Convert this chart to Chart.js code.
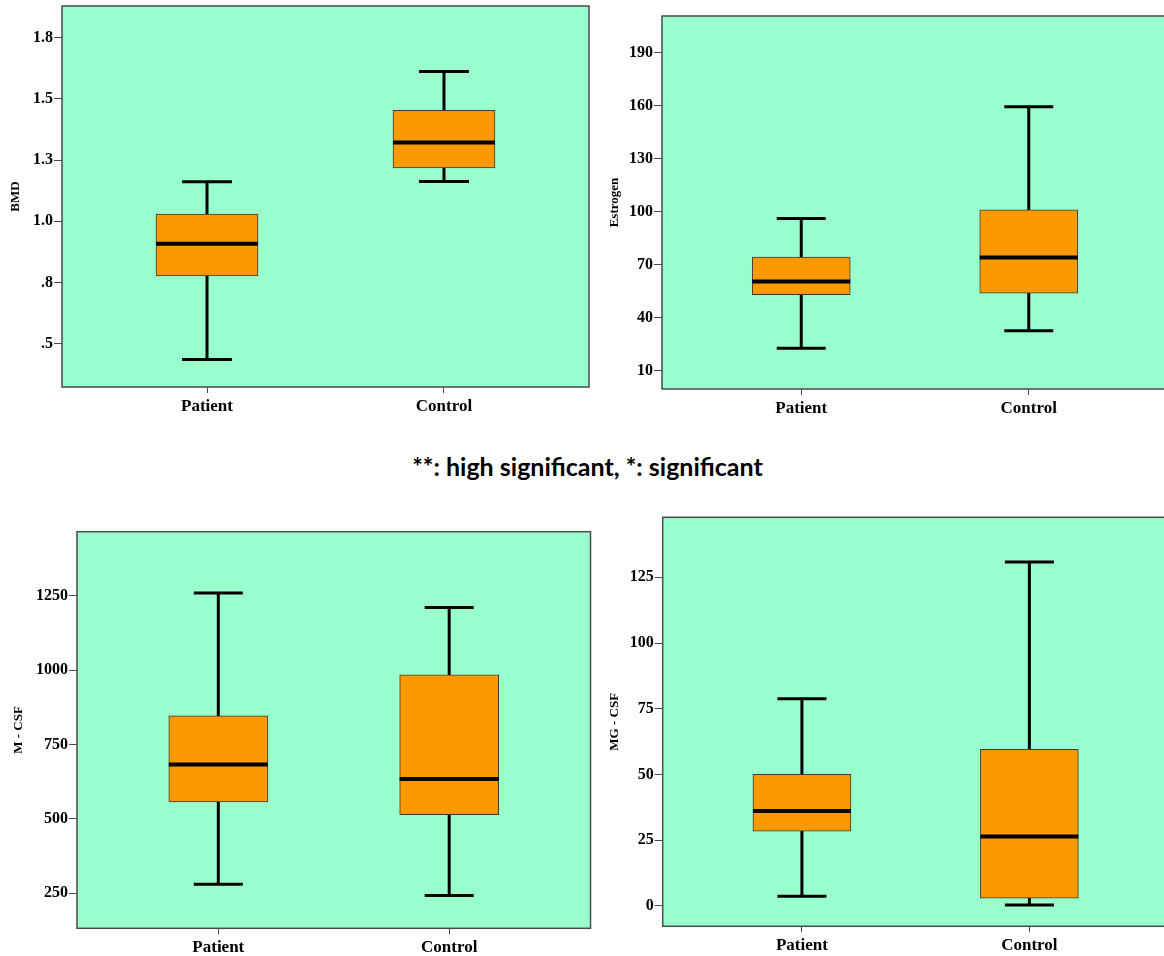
<!DOCTYPE html>
<html><head><meta charset="utf-8">
<script src="https://cdn.jsdelivr.net/npm/chart.js@4.4.1/dist/chart.umd.min.js"></script>
<style>
html,body{margin:0;padding:0;background:#fff;overflow:hidden;width:1164px;height:956px;position:relative;}
canvas{position:absolute;}
#note{position:absolute;left:0;width:1175px;top:453px;text-align:center;font-weight:bold;font-size:25px;line-height:26px;font-family:Lato,'Open Sans',sans-serif;color:#000;white-space:nowrap;}
</style></head><body>
<canvas id="c1" width="590" height="420" style="left:0px;top:0px"></canvas>
<canvas id="c2" width="590" height="420" style="left:590px;top:0px"></canvas>
<canvas id="c3" width="595" height="456" style="left:0px;top:500px"></canvas>
<canvas id="c4" width="590" height="456" style="left:590px;top:500px"></canvas>
<div id="note">**: high significant, *: significant</div>
<script>
// ---------- data ----------
const categories = ['Patient', 'Control'];

const bmdMin    = [0.436, 1.163];
const bmdQ1     = [0.777, 1.218];
const bmdMedian = [0.908, 1.322];
const bmdQ3     = [1.029, 1.453];
const bmdMax    = [1.161, 1.612];
const bmdTicks      = [0.5, 0.75, 1.0, 1.25, 1.5, 1.75];
const bmdTickLabels = ['.5', '.8', '1.0', '1.3', '1.5', '1.8'];

const estMin    = [22.7, 32.6];
const estQ1     = [53.0, 53.8];
const estMedian = [60.4, 74.0];
const estQ3     = [74.3, 101.1];
const estMax    = [96.2, 159.4];
const estTicks      = [10, 40, 70, 100, 130, 160, 190];
const estTickLabels = ['10', '40', '70', '100', '130', '160', '190'];

const mcsfMin    = [280, 243];
const mcsfQ1     = [557, 514];
const mcsfMedian = [683, 634];
const mcsfQ3     = [846, 984];
const mcsfMax    = [1259, 1210];
const mcsfTicks      = [250, 500, 750, 1000, 1250];
const mcsfTickLabels = ['250', '500', '750', '1000', '1250'];

const mgMin    = [3.7, 0.4];
const mgQ1     = [28.5, 3.0];
const mgMedian = [36.1, 26.4];
const mgQ3     = [50.1, 59.6];
const mgMax    = [78.8, 130.8];
const mgTicks      = [0, 25, 50, 75, 100, 125];
const mgTickLabels = ['0', '25', '50', '75', '100', '125'];

// ---------- style ----------
const FONT = "'Liberation Serif','Times New Roman',serif";
const PLOT_BG = 'rgb(153,255,204)';
const BOX_FILL = 'rgb(251,153,0)';
const FRAME = '#4a4a4a';

const framePlugin = {
  id: 'frame',
  beforeDraw(chart) {
    const a = chart.chartArea, ctx = chart.ctx;
    ctx.save();
    ctx.fillStyle = PLOT_BG;
    ctx.fillRect(a.left, a.top, a.right - a.left, a.bottom - a.top);
    ctx.restore();
  },
  afterDatasetsDraw(chart) {
    const a = chart.chartArea, ctx = chart.ctx;
    ctx.save();
    ctx.strokeStyle = FRAME;
    ctx.lineWidth = 1.5;
    ctx.strokeRect(a.left, a.top, a.right - a.left, a.bottom - a.top);
    ctx.restore();
  }
};

function boxChart(id, d, L) {
  const datasets = [];
  categories.forEach((c, i) => {
    datasets.push({
      type: 'line',
      data: [{x: i + 1, y: d.min[i]}, {x: i + 1, y: d.max[i]}],
      borderColor: '#000', borderWidth: 3,
      pointStyle: 'line', pointRadius: L.capR, pointHoverRadius: L.capR,
      pointBorderColor: '#000', pointBorderWidth: 3, pointHoverBorderWidth: 3,
      order: 3
    });
  });
  datasets.push({
    type: 'bar',
    data: categories.map((c, i) => ({x: i + 1, y: [d.q1[i], d.q3[i]]})),
    backgroundColor: BOX_FILL, borderColor: '#3a3a3a', borderWidth: 1,
    borderSkipped: false, barThickness: L.boxW, order: 2
  });
  datasets.push({
    type: 'line', showLine: false,
    data: categories.map((c, i) => ({x: i + 1, y: d.med[i]})),
    pointStyle: 'line', pointRadius: L.boxW / 2, pointHoverRadius: L.boxW / 2,
    pointBorderColor: '#000', pointBorderWidth: 4, pointHoverBorderWidth: 4,
    order: 1
  });

  new Chart(document.getElementById(id), {
    type: 'bar',
    data: {datasets},
    options: {
      responsive: false, animation: false, devicePixelRatio: 1,
      events: [],
      layout: {autoPadding: false, padding: {top: L.padTop, right: L.padRight, left: 0, bottom: 0}},
      plugins: {legend: {display: false}, tooltip: {enabled: false}},
      scales: {
        x: {
          type: 'linear', min: 0.388, max: 2.612, offset: false,
          grid: {display: true, drawOnChartArea: false, drawTicks: true, tickLength: 6, color: FRAME, offset: false},
          border: {display: false},
          afterBuildTicks: s => { s.ticks = categories.map((c, i) => ({value: i + 1})); },
          afterFit: s => { s.height = L.xHeight; s.paddingLeft = 0; s.paddingRight = 0; },
          ticks: {autoSkip: false, maxRotation: 0, minRotation: 0, padding: 3, color: '#000',
            font: {family: FONT, size: 17, weight: 'bold'},
            callback: v => categories[Math.round(v) - 1]}
        },
        y: {
          type: 'linear', min: L.yMin, max: L.yMax,
          grid: {display: true, drawOnChartArea: false, tickLength: 8, color: FRAME},
          border: {display: false},
          afterBuildTicks: s => { s.ticks = d.ticks.map(v => ({value: v})); },
          afterFit: s => { s.width = L.yWidth; s.paddingTop = 0; s.paddingBottom = 0; },
          ticks: {padding: 1, color: '#000', font: {family: FONT, size: 16, weight: 'bold'},
            callback: (v, i) => d.tickLabels[i]},
          title: {display: true, text: d.title, color: '#000',
            font: {family: FONT, size: 13, weight: 'bold'}, padding: {top: L.titlePad, bottom: 0}}
        }
      }
    },
    plugins: [framePlugin]
  });
}

boxChart('c1',
  {title: 'BMD', min: bmdMin, q1: bmdQ1, med: bmdMedian, q3: bmdQ3, max: bmdMax, ticks: bmdTicks, tickLabels: bmdTickLabels},
  {yMin: 0.3235, yMax: 1.879, yWidth: 62, padTop: 6, padRight: 1, xHeight: 33, titlePad: 8, boxW: 102, capR: 25});
boxChart('c2',
  {title: 'Estrogen', min: estMin, q1: estQ1, med: estMedian, q3: estQ3, max: estMax, ticks: estTicks, tickLabels: estTickLabels},
  {yMin: -0.4, yMax: 210.8, yWidth: 72, padTop: 16, padRight: 12, xHeight: 31, titlePad: 16.5, boxW: 98, capR: 24.5});
boxChart('c3',
  {title: 'M - CSF', min: mcsfMin, q1: mcsfQ1, med: mcsfMedian, q3: mcsfQ3, max: mcsfMax, ticks: mcsfTicks, tickLabels: mcsfTickLabels},
  {yMin: 132.4, yMax: 1465, yWidth: 77, padTop: 31.7, padRight: 4.5, xHeight: 27.7, titlePad: 10.5, boxW: 99, capR: 24.5});
boxChart('c4',
  {title: 'MG - CSF', min: mgMin, q1: mgQ1, med: mgMedian, q3: mgQ3, max: mgMax, ticks: mgTicks, tickLabels: mgTickLabels},
  {yMin: -7.72, yMax: 147.8, yWidth: 72.7, padTop: 17.3, padRight: 11.4, xHeight: 29.7, titlePad: 17.2, boxW: 98, capR: 24.5});
</script>
</body></html>
